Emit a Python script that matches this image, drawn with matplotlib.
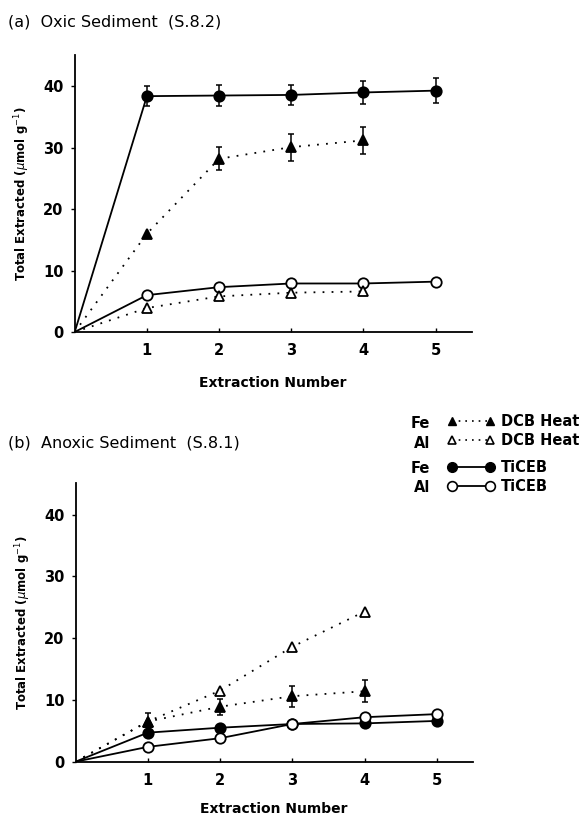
import matplotlib
matplotlib.use("Agg")
import matplotlib.pyplot as plt
from matplotlib.lines import Line2D

plt.rcParams['font.family'] = ['DejaVu Sans']

extraction = [0, 1, 2, 3, 4, 5]
x_ticks = [1, 2, 3, 4, 5]
y_ticks = [0, 10, 20, 30, 40]

# Panel (a) Oxic sediment
a_fe_ticeb = [0, 38.4, 38.5, 38.6, 39.0, 39.3]
a_fe_ticeb_err = [0, 1.6, 1.7, 1.6, 1.8, 2.0]
a_fe_dcb = [0, 16.0, 28.2, 30.1, 31.2]
a_fe_dcb_err = [0, 0, 1.9, 2.2, 2.2]
a_al_ticeb = [0, 6.0, 7.3, 7.9, 7.9, 8.2]
a_al_dcb = [0, 3.9, 5.8, 6.4, 6.6]

# Panel (b) Anoxic sediment
b_fe_ticeb = [0, 4.7, 5.5, 6.1, 6.2, 6.6]
b_fe_dcb = [0, 6.5, 8.9, 10.6, 11.4]
b_fe_dcb_err = [0, 1.3, 1.3, 1.7, 1.8]
b_al_ticeb = [0, 2.4, 3.8, 6.1, 7.2, 7.7]
b_al_dcb = [0, 6.5, 11.5, 18.6, 24.3]

W, H = 588, 819
fig = plt.figure(figsize=(W/100, H/100), dpi=100)

dot = (0, (1, 4))

def style_ax(ax, xpad):
    ax.set_xlim(0, 5.5)
    ax.set_ylim(0, 45.1)
    ax.spines['top'].set_visible(False)
    ax.spines['right'].set_visible(False)
    ax.spines['left'].set_linewidth(1.3)
    ax.spines['bottom'].set_linewidth(1.3)
    ax.set_xticks(x_ticks)
    ax.set_yticks(y_ticks)
    ax.tick_params(axis='y', direction='out', length=3, width=1, pad=5, labelsize=10.5)
    ax.tick_params(axis='x', direction='in', length=3, width=1, pad=8, labelsize=10.5)
    for lab in ax.get_xticklabels() + ax.get_yticklabels():
        lab.set_fontweight('bold')
    ax.set_xlabel('Extraction Number', fontsize=10, fontweight='bold', labelpad=xpad)
    ax.set_ylabel(r'Total Extracted ($\mu$mol g$^{-1}$)', fontsize=8.5, fontweight='bold', labelpad=8)

def series(ax, x, y, ls, marker, fill, ms, err=None):
    fc = 'black' if fill else 'white'
    ax.plot(x[:len(y)], y, linestyle=ls, color='black', lw=1.3,
            marker=marker, ms=ms, mfc=fc, mec='black', mew=1.3,
            markevery=list(range(1, len(y))), zorder=3)
    if err is not None:
        xs = x[1:len(y)]
        ys = y[1:]
        es = err[1:]
        ax.errorbar(xs, ys, yerr=es, fmt='none', ecolor='black', elinewidth=1.1,
                    capsize=2.2, capthick=1.1, zorder=2)

def px_axes(left, right, top, bottom):
    return fig.add_axes([left/W, 1-bottom/H, (right-left)/W, (bottom-top)/H])

ax_a = px_axes(74.7, 471.7, 55, 332)
series(ax_a, extraction, a_fe_ticeb, '-', 'o', True, 7.5, a_fe_ticeb_err)
series(ax_a, extraction, a_fe_dcb, dot, '^', True, 6.5, a_fe_dcb_err)
series(ax_a, extraction, a_al_ticeb, '-', 'o', False, 7.5)
series(ax_a, extraction, a_al_dcb, dot, '^', False, 6.5)
style_ax(ax_a, 13)

ax_b = px_axes(75.5, 473, 483, 761.7)
series(ax_b, extraction, b_al_dcb, dot, '^', False, 6.5)
series(ax_b, extraction, b_fe_dcb, dot, '^', True, 6.5, b_fe_dcb_err)
series(ax_b, extraction, b_fe_ticeb, '-', 'o', True, 7.5)
series(ax_b, extraction, b_al_ticeb, '-', 'o', False, 7.5)
style_ax(ax_b, 10)

fig.text(8/W, 1-22/H, '(a)  Oxic Sediment  (S.8.2)', fontsize=11.5, va='center', ha='left')
fig.text(8/W, 1-443/H, '(b)  Anoxic Sediment  (S.8.1)', fontsize=11.5, va='center', ha='left')

# Legend
h_fe_dcb = Line2D([], [], color='black', ls=(0, (1, 3)), lw=1.2, marker='^', ms=6, mfc='black', mec='black')
h_al_dcb = Line2D([], [], color='black', ls=(0, (1, 3)), lw=1.2, marker='^', ms=6, mfc='white', mec='black', mew=1.2)
h_fe_ti = Line2D([], [], color='black', ls='-', lw=1.3, marker='o', ms=7, mfc='black', mec='black')
h_al_ti = Line2D([], [], color='black', ls='-', lw=1.3, marker='o', ms=7, mfc='white', mec='black', mew=1.2)

leg_kw = dict(numpoints=2, frameon=False, handlelength=3.2, handletextpad=0.45,
              labelspacing=0.3, prop={'weight': 'bold', 'size': 10.5}, borderpad=0,
              borderaxespad=0)
leg1 = fig.legend([h_fe_dcb, h_al_dcb], ['DCB Heat', 'DCB Heat'],
                  loc='upper left', bbox_to_anchor=(448/W, 1-414/H), **leg_kw)
leg2 = fig.legend([h_fe_ti, h_al_ti], ['TiCEB', 'TiCEB'],
                  loc='upper left', bbox_to_anchor=(448/W, 1-460/H), **leg_kw)

for ytxt, t in [(423, 'Fe'), (443, 'Al'), (469, 'Fe'), (488, 'Al')]:
    fig.text(430/W, 1-ytxt/H, t, fontsize=10.5, fontweight='bold', ha='right', va='center')

fig.savefig('out.png', dpi=100)
